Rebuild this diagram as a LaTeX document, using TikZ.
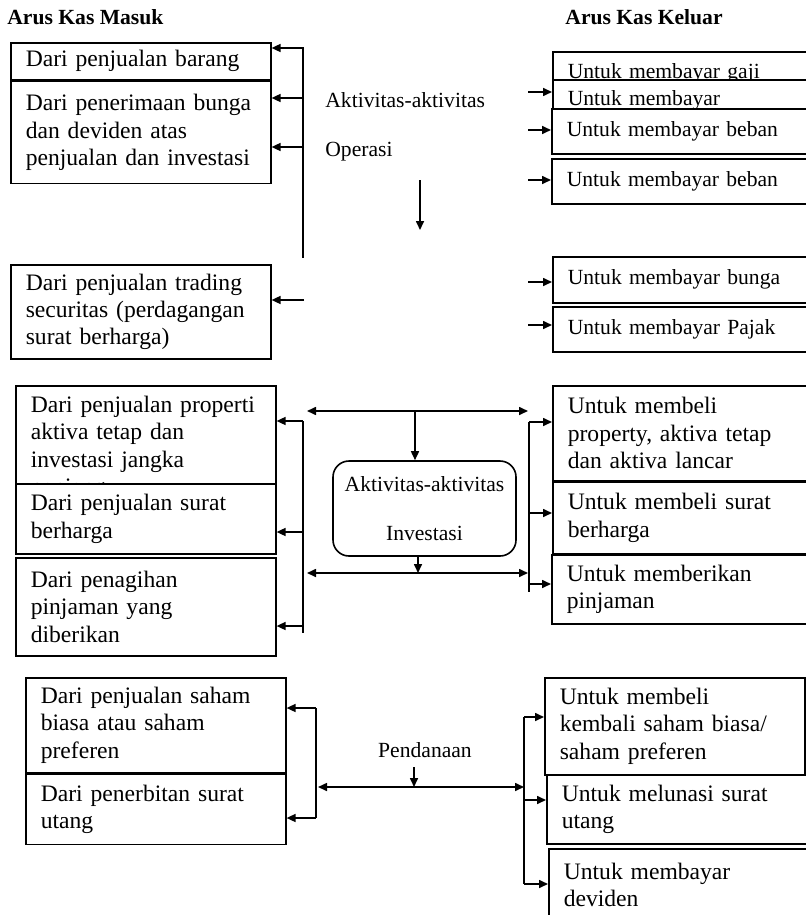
\documentclass[tikz,border=0pt]{standalone}
\usepackage{fontspec}
\setmainfont{Liberation Serif}
\usetikzlibrary{positioning,arrows.meta}
\tikzset{every node/.style={font=\fontsize{10.8}{13}\selectfont},
judul/.style={anchor=west, inner sep=0pt, font=\fontsize{10.8}{13}\selectfont\bfseries},
teks/.style={inner sep=0pt},
kotak/.style={draw, fill=white, line width=0.8pt, anchor=north west, align=left,
  inner xsep=7.5pt, inner ysep=0pt, text width=115pt,
  font=\fontsize{11.8}{13.7}\selectfont},
kecil/.style={font=\fontsize{10.8}{13}\selectfont},
pusat/.style={draw, line width=0.8pt, rounded corners=8pt, align=center, inner sep=0pt},
garis/.style={line width=0.8pt},
alur/.style={-{Triangle[length=4.5pt,width=4pt]}, line width=0.8pt},
alur2/.style={{Triangle[length=4.5pt,width=4pt]}-{Triangle[length=4.5pt,width=4pt]}, line width=0.8pt}
}

\begin{document}
\begin{tikzpicture}[x=0.5pt,y=-0.5pt]
\useasboundingbox (0,0) rectangle (806,915);

% judul kolom
\node[judul] (masuk)  at (7,17)   {Arus Kas Masuk};
\node[judul] (keluar) at (565,17) {Arus Kas Keluar};

% aktivitas operasi: kas masuk
\node[kotak, minimum height=18.5pt] (jualbrg) at (10,42) {Dari penjualan barang};
\node[kotak, minimum height=51pt, below=0pt of jualbrg] (bunga) {Dari penerimaan bunga\\dan deviden atas\\penjualan dan investasi};
\node[kotak, minimum height=47pt] (trading) at (10,264) {Dari penjualan trading\\securitas (perdagangan\\surat berharga)};

% aktivitas operasi: kas keluar
\node[kotak, kecil, minimum height=22pt]   (gaji)   at (552,51)  {Untuk membayar gaji};
\node[kotak, kecil, minimum height=21pt]   (bayar)  at (552,79)  {Untuk membayar};
\node[kotak, kecil, minimum height=22.5pt] (beban1) at (551,108) {Untuk membayar beban};
\node[kotak, kecil, minimum height=22.5pt] (beban2) at (551,158) {Untuk membayar beban};
\node[kotak, kecil, minimum height=23pt]   (bbunga) at (552,256) {Untuk membayar bunga};
\node[kotak, kecil, minimum height=22.5pt] (pajak)  at (552,306) {Untuk membayar Pajak};

\node[teks, anchor=west, align=left] (operasi) at (325,127) {Aktivitas-aktivitas\\[11.5pt]Operasi};
\coordinate (turun1) at (420,180);
\coordinate (turun2) at (420,230);
\draw[alur] (turun1) -- (turun2);

\coordinate (omA) at (303,48);
\coordinate (omB) at (303,258);
\draw[garis] (omA) -- (omB);
\foreach \y/\b [count=\i] in {48/jualbrg, 98/bunga, 147/bunga, 300/trading}{
  \coordinate (om\i) at (304,\y);
  \draw[alur] (om\i) -- (om\i -| \b.east);
}
\foreach \y/\b [count=\i] in {92/bayar, 130/beban1, 180/beban2, 282/bbunga, 325/pajak}{
  \coordinate (ok\i) at (528,\y);
  \draw[alur] (ok\i) -- (ok\i -| \b.west);
}

% aktivitas investasi
\node[kotak, minimum height=62pt] (properti) at (15,385) {Dari penjualan properti\\aktiva tetap dan\\investasi jangka\\panjang};
\node[kotak, minimum height=35pt] (jsurat) at (15,483) {Dari penjualan surat\\berharga};
\node[kotak, minimum height=49pt] (tagih)  at (15,557) {Dari penagihan\\pinjaman yang\\diberikan};

\node[kotak, minimum height=47.5pt] (beliprop) at (552,385) {Untuk membeli\\property, aktiva tetap\\dan aktiva lancar};
\node[kotak, minimum height=35.5pt, below=0pt of beliprop] (belisurat) {Untuk membeli surat\\berharga};
\node[kotak, minimum height=34.5pt] (pinjam) at (551,554) {Untuk memberikan\\pinjaman};

\node[pusat, minimum width=91.5pt, minimum height=47.5pt] (investasi) at (424.5,508.5) {Aktivitas-aktivitas\\[11.5pt]Investasi};

\coordinate (ia1) at (307,411);
\coordinate (ia2) at (528,411);
\draw[alur2] (ia1) -- (ia2);
\coordinate (ia3) at (415,411);
\draw[alur] (ia3) -- (ia3 |- investasi.north);
\coordinate (ib1) at (307,573);
\coordinate (ib2) at (528,573);
\draw[alur2] (ib1) -- (ib2);
\coordinate (ib3) at (418,573);
\draw[alur] (ib3 |- investasi.south) -- (ib3);

\coordinate (imA) at (303,421);
\coordinate (imB) at (303,633);
\draw[garis] (imA) -- (imB);
\foreach \y/\b [count=\i] in {421/properti, 532/jsurat, 626/tagih}{
  \coordinate (im\i) at (303,\y);
  \draw[alur] (im\i) -- (im\i -| \b.east);
}
\coordinate (ikA) at (529,422);
\coordinate (ikB) at (529,592);
\draw[garis] (ikA) -- (ikB);
\foreach \y/\b [count=\i] in {422/beliprop, 513/belisurat, 584/pinjam}{
  \coordinate (ik\i) at (529,\y);
  \draw[alur] (ik\i) -- (ik\i -| \b.west);
}

% aktivitas pendanaan
\node[kotak, minimum height=47.5pt] (saham) at (25,677) {Dari penjualan saham\\biasa atau saham\\preferen};
\node[kotak, minimum height=35pt, below=0pt of saham] (utang) {Dari penerbitan surat\\utang};
\node[kotak, minimum height=48.5pt] (belisaham) at (544,677) {Untuk membeli\\kembali saham biasa/\\saham preferen};
\node[kotak, minimum height=34.5pt] (lunasi)  at (546,774) {Untuk melunasi surat\\utang};
\node[kotak, minimum height=36pt]   (deviden) at (548,848) {Untuk membayar\\deviden};

\node[teks] (pendanaan) at (425,750) {Pendanaan};
\coordinate (pd1) at (414,767);
\coordinate (pd2) at (414,787);
\draw[alur] (pd1) -- (pd2);
\coordinate (pa1) at (318,787);
\coordinate (pa2) at (524,787);
\draw[alur2] (pa1) -- (pa2);

\coordinate (pmA) at (316,708);
\coordinate (pmB) at (316,818);
\draw[garis] (pmA) -- (pmB);
\foreach \y/\b [count=\i] in {708/saham, 818/utang}{
  \coordinate (pm\i) at (316,\y);
  \draw[alur] (pm\i) -- (pm\i -| \b.east);
}
\coordinate (pkA) at (524,717);
\coordinate (pkB) at (524,884);
\draw[garis] (pkA) -- (pkB);
\foreach \y/\b [count=\i] in {717/belisaham, 800/lunasi, 884/deviden}{
  \coordinate (pk\i) at (524,\y);
  \draw[alur] (pk\i) -- (pk\i -| \b.west);
}
\end{tikzpicture}
\end{document}
